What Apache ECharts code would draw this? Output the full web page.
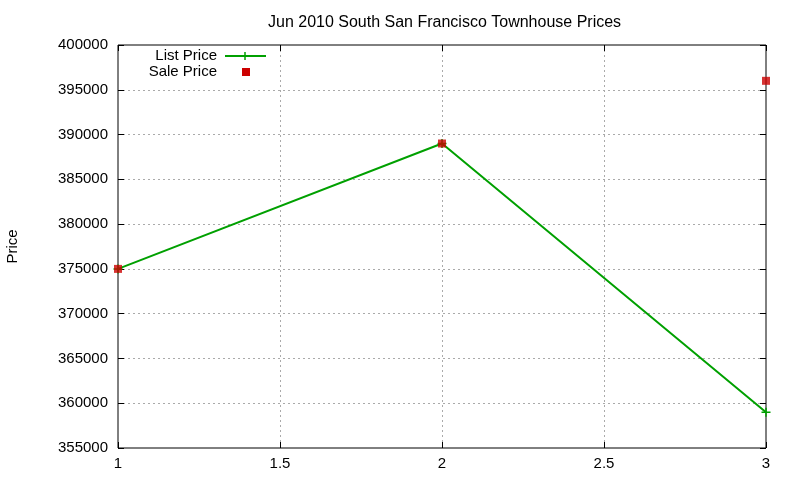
<!DOCTYPE html>
<html><head><meta charset="utf-8">
<script src="https://cdn.jsdelivr.net/npm/echarts@6/dist/echarts.min.js"></script>
<style>html,body{margin:0;padding:0;background:#fff}#c{width:800px;height:480px}</style>
</head><body><div id="c"></div>
<script>
const xValues = [1, 2, 3];
const listPrice = [375000, 389000, 359000];
const salePrice = [375000, 389000, 396000];
const yMin = 355000, yMax = 400000, yStep = 5000;
const xMin = 1, xMax = 3, xStep = 0.5;

const chart = echarts.init(document.getElementById('c'), null, {renderer: 'canvas'});
const font = 'Liberation Sans, Arial, sans-serif';
const green = '#00a000', red = '#cc0000';
const plus = 'path://M0,-5L0,5M-5,0L5,0';
const axisCommon = {
  axisLine: {show: false},
  axisTick: {inside: true, length: 6, lineStyle: {color: '#000'}},
  minorTick: {show: false}
};
const gridLine = {show: true, showMinLine: false, showMaxLine: false, lineStyle: {color: '#aaa', type: [2, 3]}};
chart.setOption({
  animation: false,
  title: {text: 'Jun 2010 South San Francisco Townhouse Prices', left: 263, top: 10,
    textStyle: {fontFamily: font, fontSize: 16, fontWeight: 'normal', color: '#000'}},
  grid: {left: 118, right: 34, top: 45, bottom: 32, show: true, borderColor: '#000', borderWidth: 1,
    backgroundColor: 'transparent', containLabel: false, outerBoundsMode: 'none'},
  xAxis: [
    Object.assign({type: 'value', min: xMin, max: xMax, interval: xStep, position: 'bottom',
      axisLabel: {fontFamily: font, fontSize: 15, color: '#000', margin: 8},
      splitLine: gridLine}, axisCommon),
    Object.assign({type: 'value', min: xMin, max: xMax, interval: xStep, position: 'top',
      axisLabel: {show: false}, splitLine: {show: false}}, axisCommon)
  ],
  yAxis: [
    Object.assign({type: 'value', min: yMin, max: yMax, interval: yStep, position: 'left',
      name: 'Price', nameLocation: 'middle', nameGap: 98, nameRotate: 90,
      nameTextStyle: {fontFamily: font, fontSize: 15, color: '#000'},
      axisLabel: {fontFamily: font, fontSize: 15, color: '#000', margin: 10, formatter: v => String(v)},
      splitLine: gridLine}, axisCommon),
    Object.assign({type: 'value', min: yMin, max: yMax, interval: yStep, position: 'right',
      axisLabel: {show: false}, splitLine: {show: false}}, axisCommon)
  ],
  series: [
    {name: 'List Price', type: 'line', data: xValues.map((x, i) => [x, listPrice[i]]),
      symbol: plus, symbolSize: 9, showSymbol: true,
      lineStyle: {color: green, width: 2},
      itemStyle: {color: green, borderColor: green, borderWidth: 1.5}, z: 2},
    {name: 'Sale Price', type: 'scatter', data: xValues.map((x, i) => [x, salePrice[i]]),
      symbol: 'rect', symbolSize: 8, itemStyle: {color: red}, z: 3}
  ],
  graphic: [
    {type: 'text', x: 217, y: 56, style: {text: 'List Price', font: '15px ' + font, fill: '#000', textAlign: 'right', textVerticalAlign: 'middle'}},
    {type: 'text', x: 217, y: 72, style: {text: 'Sale Price', font: '15px ' + font, fill: '#000', textAlign: 'right', textVerticalAlign: 'middle'}},
    {type: 'line', shape: {x1: 225, y1: 56, x2: 266, y2: 56}, style: {stroke: green, lineWidth: 2}},
    {type: 'line', shape: {x1: 245, y1: 52, x2: 245, y2: 60}, style: {stroke: green, lineWidth: 1.5}},
    {type: 'rect', shape: {x: 242, y: 68, width: 8, height: 8}, style: {fill: red}}
  ]
});
</script></body></html>
